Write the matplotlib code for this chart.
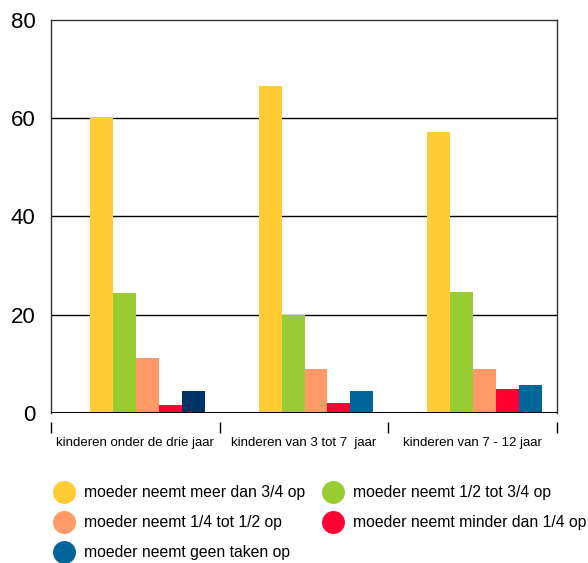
import matplotlib.pyplot as plt
import numpy as np
from matplotlib.lines import Line2D

plt.rcParams['font.family'] = ['Liberation Sans', 'DejaVu Sans']

categories = ['kinderen onder de drie jaar', 'kinderen van 3 tot 7  jaar', 'kinderen van 7 - 12 jaar']
series = ['moeder neemt meer dan 3/4 op', 'moeder neemt 1/2 tot 3/4 op',
          'moeder neemt 1/4 tot 1/2 op', 'moeder neemt minder dan 1/4 op',
          'moeder neemt geen taken op']
meer_dan_34 = [60.0, 66.6, 57.1]
half_tot_34 = [24.4, 19.9, 24.6]
kwart_tot_half = [11.2, 9.0, 9.0]
minder_dan_kwart = [1.7, 2.1, 4.9]
geen_taken = [4.4, 4.4, 5.8]
values = [meer_dan_34, half_tot_34, kwart_tot_half, minder_dan_kwart, geen_taken]
colors = ['#FFCC33', '#99CC33', '#FF9966', '#FF0033', '#006699']

fig = plt.figure(figsize=(5.88, 5.63), dpi=100)
ax = fig.add_axes([51 / 588, 1 - 413 / 563, 506 / 588, 393 / 563])

x = np.arange(len(categories))
w = 0.136
offset = 0.071
for i, (vals, c) in enumerate(zip(values, colors)):
    pos = x + offset + (i - 2) * w
    bc = [c] * len(vals)
    if i == 4:
        bc[0] = '#003366'
    ax.bar(pos, vals, width=w, color=bc, zorder=3, linewidth=0)

ax.set_xlim(-0.5, 2.5)
ax.set_ylim(0, 80)
ax.set_yticks([0, 20, 40, 60, 80])
ax.tick_params(axis='y', length=0, pad=11, labelsize=16)
for g in [20, 40, 60]:
    ax.axhline(g, color='black', lw=1, zorder=1)
ax.axhline(0, color='black', lw=2.2, zorder=4)

ax.set_xticks([-0.5, 0.5, 1.5, 2.5])
ax.set_xticklabels([])
ax.set_xticks(x, minor=True)
ax.set_xticklabels(categories, minor=True)
ax.tick_params(axis='x', which='major', direction='out', length=8, width=1)
ax.tick_params(axis='x', which='minor', length=0, pad=10.5, labelsize=9.5)
ax.spines['bottom'].set_position(('outward', 6.5))
ax.spines['bottom'].set_visible(False)
for s in ['left', 'top', 'right']:
    ax.spines[s].set_color('#333333')
    ax.spines[s].set_linewidth(1)

handles = [Line2D([], [], marker='o', ls='none', markersize=15.5, color=c) for c in colors]
order = [0, 2, 4, 1, 3]
fig.legend([handles[k] for k in order], [series[k] for k in order],
           loc='upper left', bbox_to_anchor=(46 / 588, 1 - 479 / 563),
           ncol=2, frameon=False, fontsize=11.3, handletextpad=0.55,
           columnspacing=1.0, labelspacing=0.95, borderaxespad=0, handlelength=1.5)

fig.savefig('out.png', dpi=100)
